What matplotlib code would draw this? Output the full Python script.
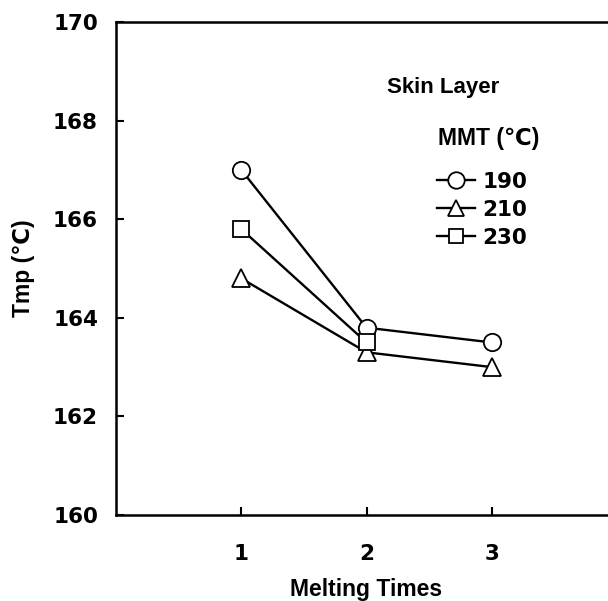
import matplotlib
matplotlib.use("Agg")
import matplotlib.pyplot as plt

plt.rcParams['font.family'] = ['Liberation Sans', 'DejaVu Sans']
plt.rcParams['font.weight'] = 'bold'

melting_times = [1, 2, 3]
series_labels = ['190', '210', '230']
tmp_190 = [167.0, 163.8, 163.5]
tmp_210 = [164.8, 163.3, 163.0]
tmp_230 = [165.8, 163.5]
x_ticks = [1, 2, 3]
y_ticks = [160, 162, 164, 166, 168, 170]

DIGIT_FONT = ['DejaVu Sans']
TEXT_FS = 16.5
DIGIT_FS = 15.5

W, H = 608, 601
fig = plt.figure(figsize=(W / 100, H / 100), dpi=100)
ax = fig.add_axes([116 / W, 86 / H, 501 / W, 493 / H])

ax.plot(melting_times, tmp_190, '-o', color='black', lw=1.7, ms=12.5,
        mfc='white', mec='black', mew=1.3, label=series_labels[0])
ax.plot(melting_times, tmp_210, '-^', color='black', lw=1.7, ms=12.5,
        mfc='white', mec='black', mew=1.3, label=series_labels[1])
ax.plot(melting_times[:len(tmp_230)], tmp_230, '-s', color='black', lw=1.7, ms=11,
        mfc='white', mec='black', mew=1.3, label=series_labels[2])

ax.set_xlim(0, 4)
ax.set_ylim(160, 170)
ax.set_xticks(x_ticks)
ax.set_yticks(y_ticks)
ax.tick_params(direction='in', length=6, width=1.5, labelsize=DIGIT_FS)
ax.tick_params(axis='y', pad=13)
ax.tick_params(axis='x', pad=21)
for lab in ax.get_xticklabels() + ax.get_yticklabels():
    lab.set_fontweight('bold')
    lab.set_family(DIGIT_FONT)
for s in ax.spines.values():
    s.set_linewidth(1.8)

ax.set_xlabel('Melting Times', fontsize=TEXT_FS, fontweight='bold', labelpad=10)
ax.set_ylabel('Tmp (\u2103)', fontsize=TEXT_FS, fontweight='bold', labelpad=13)

fig.text(387 / W, 1 - 87 / H, 'Skin Layer', fontsize=16, fontweight='bold',
         ha='left', va='center')
fig.text(438 / W, 1 - 139 / H, 'MMT (\u2103)', fontsize=TEXT_FS, fontweight='bold',
         ha='left', va='center')

leg = ax.legend(loc='upper left', bbox_to_anchor=(437 / W, 1 - 172 / H),
                bbox_transform=fig.transFigure,
                frameon=False, fontsize=DIGIT_FS, handlelength=1.75, handletextpad=0.35,
                labelspacing=0.36, borderaxespad=0, borderpad=0, markerscale=0.95)
for t in leg.get_texts():
    t.set_fontweight('bold')
    t.set_family(DIGIT_FONT)

fig.savefig('out.png', dpi=100)
